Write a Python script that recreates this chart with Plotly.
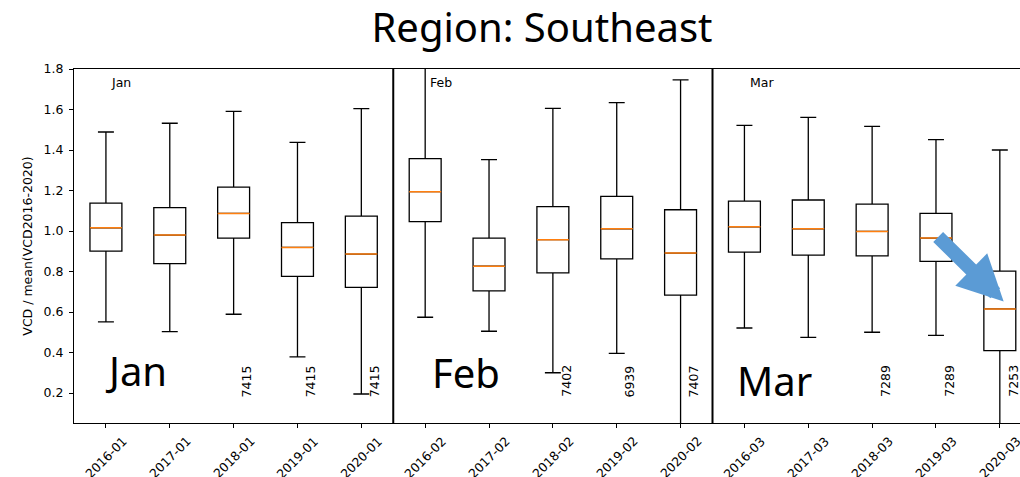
import plotly.graph_objects as go

# ---- data ----
periods = ["2016-01", "2017-01", "2018-01", "2019-01", "2020-01",
           "2016-02", "2017-02", "2018-02", "2019-02", "2020-02",
           "2016-03", "2017-03", "2018-03", "2019-03", "2020-03"]
month_names = ["Jan", "Feb", "Mar"]
years_per_month = 5

lower_whisker = [0.551, 0.503, 0.589, 0.378, 0.195,
                 0.574, 0.505, 0.300, 0.396, 0.000,
                 0.521, 0.475, 0.500, 0.485, 0.000]
q1 = [0.901, 0.839, 0.965, 0.776, 0.722,
      1.046, 0.704, 0.793, 0.862, 0.683,
      0.896, 0.881, 0.877, 0.850, 0.409]
median = [1.016, 0.980, 1.087, 0.919, 0.886,
          1.194, 0.826, 0.957, 1.011, 0.891,
          1.021, 1.011, 0.998, 0.965, 0.615]
q3 = [1.138, 1.115, 1.217, 1.041, 1.073,
      1.357, 0.965, 1.120, 1.171, 1.105,
      1.148, 1.153, 1.133, 1.087, 0.802]
upper_whisker = [1.489, 1.532, 1.591, 1.438, 1.604,
                 1.950, 1.352, 1.606, 1.634, 1.746,
                 1.522, 1.561, 1.517, 1.451, 1.400]
counts = [None, None, 7415, 7415, 7415,
          None, None, 7402, 6939, 7407,
          None, None, 7289, 7289, 7253]

title_text = "Region: Southeast"
ylabel = "VCD / mean(VCD2016-2020)"
yticks = [0.2, 0.4, 0.6, 0.8, 1.0, 1.2, 1.4, 1.6, 1.8]

# ---- figure ----
pos = list(range(len(periods)))
BLACK = "#000000"
ORANGE = "#ff7f0e"
TICKFONT = dict(family="DejaVu Sans", size=12.5, color=BLACK)

fig = go.Figure()
fig.add_trace(go.Box(
    x=pos, q1=q1, median=median, q3=q3,
    lowerfence=lower_whisker, upperfence=upper_whisker,
    width=0.5, whiskerwidth=0.5,
    line=dict(color=BLACK, width=1.3), fillcolor="rgba(255,255,255,0)",
    boxpoints=False, showlegend=False, hoverinfo="skip"))
# orange median bars
fig.add_trace(go.Box(
    x=pos, q1=median, median=median, q3=median,
    lowerfence=median, upperfence=median,
    width=0.5, whiskerwidth=1.0,
    line=dict(color=ORANGE, width=1.5), fillcolor="rgba(255,255,255,0)",
    boxpoints=False, showlegend=False, hoverinfo="skip"))

annotations = []
# rotated x tick labels (centered under tick, matplotlib-style)
for p, lab in zip(pos, periods):
    annotations.append(dict(x=p, y=0, xref="x", yref="paper", text=lab,
                            textangle=-45, showarrow=False, xanchor="center",
                            yanchor="top", yshift=-8, font=TICKFONT))
# counts
for p, c in zip(pos, counts):
    if c is not None:
        annotations.append(dict(x=p + 0.2, y=0.17, xref="x", yref="y", text=str(c),
                                textangle=-90, showarrow=False, xanchor="center",
                                yanchor="bottom", font=TICKFONT))
# small month labels
for k, m in enumerate(month_names):
    start = k * years_per_month
    annotations.append(dict(x=start + 0.05, y=1.685, xref="x", yref="y", text=m,
                            showarrow=False, xanchor="left", yanchor="bottom",
                            font=TICKFONT))
# big month labels
big_offsets = [(-0.05, 0.31), (0.08, 0.30), (-0.14, 0.26)]
for k, m in enumerate(month_names):
    start = k * years_per_month
    dx, yy = big_offsets[k]
    annotations.append(dict(x=start + dx, y=yy, xref="x", yref="y", text=m,
                            showarrow=False, xanchor="left", yanchor="middle",
                            font=dict(family="Noto Sans", size=40, color=BLACK)))
# arrow pointing at the last box
annotations.append(dict(x=pos[-1] + 0.06, y=0.652, xref="x", yref="y", text="",
                        showarrow=True, ax=-67, ay=-66, arrowhead=2,
                        arrowsize=0.65, arrowwidth=14, arrowcolor="#5b9bd5",
                        standoff=0))

shapes = []
for k in range(1, len(month_names)):
    xs = k * years_per_month - 0.5
    shapes.append(dict(type="line", x0=xs, x1=xs, y0=0, y1=1, xref="x", yref="paper",
                       line=dict(color=BLACK, width=2)))

fig.update_layout(
    width=1020, height=477,
    margin=dict(l=74, r=0, t=69, b=54),
    plot_bgcolor="white", paper_bgcolor="white",
    title=dict(text=title_text, x=542 / 1020, xref="container", xanchor="center",
               y=1 - 28 / 477, yref="container", yanchor="middle",
               font=dict(family="Noto Sans", size=40, color=BLACK)),
    annotations=annotations, shapes=shapes,
    showlegend=False, boxmode="overlay",
)
fig.update_xaxes(range=[-0.5, -0.5 + 946 / 63.85], showgrid=False, zeroline=False,
                 tickvals=pos, showticklabels=False, ticks="outside", ticklen=4,
                 tickwidth=1, tickcolor=BLACK, showline=True, linecolor=BLACK,
                 linewidth=1, mirror=True)
fig.update_yaxes(range=[1.8 - 354 / 202.5, 1.8], showgrid=False, zeroline=False,
                 tickvals=yticks, tickformat=".1f", ticks="outside", ticklen=4,
                 tickwidth=1, tickcolor=BLACK, showline=True, linecolor=BLACK,
                 linewidth=1, tickfont=TICKFONT, ticklabelstandoff=3,
                 automargin=False,
                 title=dict(text=ylabel, font=TICKFONT, standoff=8))

fig.write_html("out.html", config={"displayModeBar": False},
               post_script="document.body.style.margin='0px';document.body.style.overflow='hidden';")
